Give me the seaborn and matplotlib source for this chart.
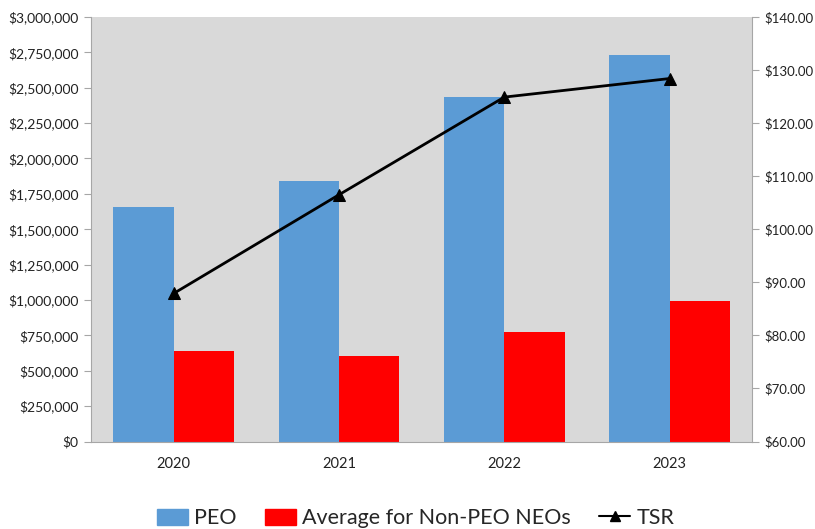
import pandas as pd
import matplotlib.pyplot as plt
import seaborn as sns
from matplotlib.ticker import FuncFormatter, MultipleLocator
from matplotlib.patches import Patch
from matplotlib.lines import Line2D

# dados
anos = ['2020', '2021', '2022', '2023']
peo = [1659000, 1841000, 2432000, 2731000]
non_peo = [640000, 606000, 776000, 993000]
tsr = [87.9, 106.5, 124.9, 128.4]

azul = '#5b9bd5'
vermelho = '#ff0000'
cinza = '#d9d9d9'

df = pd.DataFrame({
    'ano': anos * 2,
    'valor': peo + non_peo,
    'grupo': ['PEO'] * 4 + ['Average for Non-PEO NEOs'] * 4,
})

sns.set_style('white')
plt.rcParams['font.family'] = ['Lato', 'DejaVu Sans']

fig = plt.figure(figsize=(8.15, 5.29), dpi=100)
ax = fig.add_axes([0.1117, 0.1654, 0.8113, 0.8025])
ax.set_facecolor(cinza)

sns.barplot(data=df, x='ano', y='valor', hue='grupo',
            palette=[azul, vermelho], width=0.73, gap=0,
            saturation=1, linewidth=0, ax=ax, legend=False)

ax.set_ylim(0, 3000000)
ax.set_xlim(-0.5, 3.5)
ax.yaxis.set_major_locator(MultipleLocator(250000))
ax.yaxis.set_major_formatter(FuncFormatter(lambda v, p: '${:,.0f}'.format(v)))
ax.set_xlabel('')
ax.set_ylabel('')

# linha TSR no eixo da direita
ax2 = ax.twinx()
sns.lineplot(x=list(range(len(anos))), y=tsr, ax=ax2, color='black',
             marker='^', markersize=8, markeredgecolor='black', linewidth=2)
ax2.set_ylim(60, 140)
ax2.yaxis.set_major_locator(MultipleLocator(10))
ax2.yaxis.set_major_formatter(FuncFormatter(lambda v, p: '${:.2f}'.format(v)))
ax2.set_xlim(-0.5, 3.5)

for a in (ax, ax2):
    for s in a.spines.values():
        s.set_visible(False)
    a.tick_params(axis='y', labelsize=10, length=5, width=0.8,
                  color='#a6a6a6', labelcolor='#222222')
ax.spines['left'].set_visible(True)
ax.spines['left'].set_color('#a6a6a6')
ax.spines['bottom'].set_visible(True)
ax.spines['bottom'].set_color('#a6a6a6')
ax2.spines['right'].set_visible(True)
ax2.spines['right'].set_color('#a6a6a6')
ax.tick_params(axis='y', left=True, pad=4)
ax2.tick_params(axis='y', right=True, pad=4, labelsize=9.5)
ax.tick_params(axis='x', length=0, labelsize=10.5, pad=11, labelcolor='#222222')

handles = [
    Patch(color=azul, label='PEO'),
    Patch(color=vermelho, label='Average for Non-PEO NEOs'),
    Line2D([0], [0], color='black', marker='^', markersize=7, linewidth=1.5, label='TSR'),
]
fig.legend(handles=handles, loc='lower center', bbox_to_anchor=(0.51, -0.035),
           ncol=3, frameon=False, fontsize=15.5, handlelength=1.45,
           handleheight=0.75, columnspacing=1.3, handletextpad=0.3)

plt.savefig('out.png', dpi=100)
